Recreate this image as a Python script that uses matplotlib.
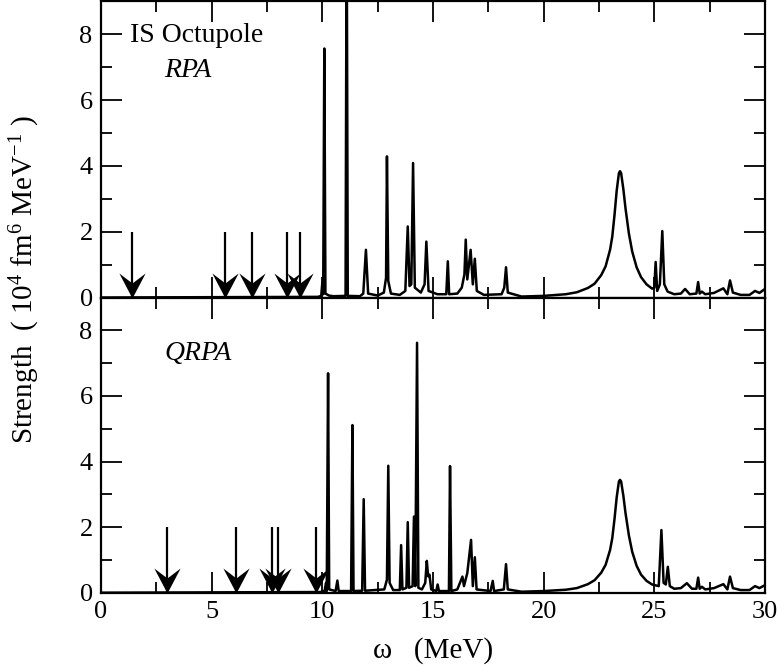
import matplotlib
matplotlib.use('Agg')
import matplotlib.pyplot as plt
from matplotlib.ticker import MultipleLocator
from matplotlib.path import Path

plt.rcParams['font.family'] = 'serif'
plt.rcParams['font.serif'] = ['Liberation Serif', 'DejaVu Serif']
plt.rcParams['mathtext.fontset'] = 'custom'
plt.rcParams['mathtext.rm'] = 'Liberation Serif'
plt.rcParams['mathtext.it'] = 'Liberation Serif:italic'

# RPA strength curve (MeV, 10^4 fm^6 MeV^-1)
rpa_x = [0.0, 9.8, 9.95, 10.0, 10.04, 10.09, 10.14, 10.3, 10.5,
         11.05, 11.1, 11.15, 11.7, 11.85, 11.97, 12.07, 12.5,
         12.78, 12.88, 12.92, 12.98, 13.1, 13.5, 13.75, 13.86, 13.94,
         14.02, 14.1, 14.18, 14.45, 14.62, 14.7, 14.8, 15.2, 15.6,
         15.67, 15.73, 16.1, 16.3, 16.42, 16.48, 16.55, 16.7, 16.8,
         16.89, 16.98, 17.3, 18.1, 18.22, 18.3, 18.38, 19.0, 20.0,
         21.0, 21.5, 22.0, 22.3, 22.6, 22.8, 23.0, 23.1, 23.2, 23.3,
         23.4, 23.45, 23.5, 23.6, 23.7, 23.85, 24.0, 24.2, 24.4, 24.65,
         24.9, 25.0, 25.06, 25.13, 25.25, 25.36, 25.45, 25.6, 25.9,
         26.2, 26.39, 26.6, 26.9, 26.98, 27.05, 27.15, 27.3, 27.7,
         28.12, 28.3, 28.42, 28.55, 28.9, 29.3, 29.55, 29.75, 30.0]
rpa_y = [0.0, 0.02, 0.05, 0.45, 0.1, 7.57, 0.12, 0.06, 0.04,
         0.05, 12.0, 0.05, 0.04, 0.12, 1.45, 0.12, 0.06,
         0.15, 0.6, 4.29, 0.5, 0.12, 0.08, 0.2, 2.16, 0.35,
         0.4, 4.09, 0.3, 0.15, 0.4, 1.70, 0.2, 0.1, 0.1,
         1.10, 0.1, 0.12, 0.3, 0.7, 1.76, 0.55, 1.45, 0.4,
         1.18, 0.2, 0.08, 0.1, 0.3, 0.92, 0.15, 0.03, 0.05,
         0.1, 0.16, 0.29, 0.42, 0.68, 0.95, 1.45, 1.85, 2.5, 3.25,
         3.78, 3.84, 3.78, 3.3, 2.7, 1.95, 1.4, 0.92, 0.62, 0.4,
         0.27, 0.3, 1.08, 0.2, 0.4, 2.02, 0.4, 0.18, 0.1,
         0.12, 0.26, 0.1, 0.12, 0.47, 0.12, 0.18, 0.1, 0.14,
         0.28, 0.1, 0.52, 0.15, 0.08, 0.08, 0.2, 0.14, 0.26]

# QRPA strength curve
qrpa_x = [0.0, 9.9, 10.1, 10.17, 10.2, 10.26, 10.31, 10.6, 10.68, 10.74,
          11.3, 11.36, 11.41, 11.8, 11.87, 11.93, 12.8, 12.92, 12.98,
          13.04, 13.2, 13.5, 13.56, 13.62, 13.8, 13.86, 13.92, 14.08,
          14.14, 14.2, 14.28, 14.34, 14.5, 14.65, 14.72, 14.78, 14.84,
          14.92, 15.15, 15.21, 15.27, 15.72, 15.77, 15.83, 16.1, 16.33,
          16.4, 16.55, 16.72, 16.8, 16.89, 16.97, 17.6, 17.7, 17.76,
          18.2, 18.3, 18.38, 19.0, 20.0, 21.0, 21.5, 22.0, 22.3, 22.6,
          22.8, 23.0, 23.1, 23.2, 23.3, 23.4, 23.45, 23.5, 23.6, 23.7,
          23.85, 24.0, 24.2, 24.4, 24.65, 24.9, 25.2, 25.32, 25.42,
          25.52, 25.61, 25.7, 25.9, 26.2, 26.47, 26.7, 26.9, 26.98,
          27.05, 27.15, 27.3, 27.7, 28.12, 28.3, 28.42, 28.55, 28.9,
          29.3, 29.55, 29.75, 30.0]
qrpa_y = [0.0, 0.02, 0.05, 0.3, 0.05, 6.69, 0.1, 0.05, 0.37, 0.05,
          0.05, 5.11, 0.05, 0.06, 2.85, 0.06, 0.1, 0.4, 3.87,
          0.3, 0.08, 0.08, 1.45, 0.1, 0.15, 2.15, 0.15, 0.2,
          2.32, 0.2, 7.62, 0.15, 0.1, 0.3, 0.97, 0.5, 0.55,
          0.1, 0.05, 0.25, 0.05, 0.05, 3.86, 0.05, 0.1, 0.49,
          0.2, 0.6, 1.61, 0.2, 1.08, 0.1, 0.05, 0.36, 0.05,
          0.1, 0.87, 0.1, 0.03, 0.05, 0.09, 0.14, 0.26, 0.38, 0.61,
          0.85, 1.3, 1.66, 2.24, 2.91, 3.39, 3.44, 3.39, 2.96, 2.42,
          1.75, 1.25, 0.82, 0.55, 0.36, 0.25, 0.2, 1.91, 0.3,
          0.25, 0.79, 0.2, 0.12, 0.14, 0.29, 0.12, 0.12, 0.46,
          0.12, 0.18, 0.1, 0.14, 0.26, 0.1, 0.49, 0.14, 0.08,
          0.08, 0.2, 0.14, 0.23]

# unperturbed energies marked by arrows
rpa_arrows = [1.39, 5.6, 6.81, 8.39, 8.99]
qrpa_arrows = [3.0, 6.09, 7.71, 8.01, 9.72]
arrow_top = 2.0

# concave arrowhead, tip at the origin
head = Path([(0, 0), (-10.5, 20), (0, 12), (10.5, 20), (0, 0)],
            [Path.MOVETO, Path.LINETO, Path.LINETO, Path.LINETO, Path.CLOSEPOLY])

fig = plt.figure(figsize=(7.81, 6.71), dpi=100)
ax1 = fig.add_axes([0.1293, 0.5566, 0.8502, 0.4412])
ax2 = fig.add_axes([0.1293, 0.1167, 0.8502, 0.4399])

panels = [(ax1, rpa_x, rpa_y, rpa_arrows), (ax2, qrpa_x, qrpa_y, qrpa_arrows)]
for ax, xs, ys, arrows in panels:
    ax.plot(xs, ys, color='black', lw=1.8)
    ax.vlines(arrows, 0, arrow_top, color='black', lw=1.6)
    ax.plot(arrows, [0] * len(arrows), ls='none', marker=head, ms=36,
            color='black', mew=0, clip_on=False)
    ax.set_xlim(0, 30)
    ax.set_ylim(0, 9)
    ax.xaxis.set_major_locator(MultipleLocator(5))
    ax.xaxis.set_minor_locator(MultipleLocator(2.5))
    ax.yaxis.set_major_locator(MultipleLocator(2))
    ax.yaxis.set_minor_locator(MultipleLocator(1))
    ax.tick_params(which='both', direction='in', top=True, right=True, width=1.3, labelsize=19, pad=6)
    ax.tick_params(which='major', length=15)
    ax.tick_params(which='minor', length=8)
    for s in ax.spines.values():
        s.set_linewidth(1.6)

ax1.tick_params(labelbottom=False)

ax1.text(1.31, 7.98, 'IS Octupole', fontsize=20, va='center', ha='left')
ax1.text(2.85, 6.91, 'RPA', fontsize=20, style='italic', va='center', ha='left')
ax2.text(2.89, 7.3, 'QRPA', fontsize=20, style='italic', va='center', ha='left')

ax2.set_xlabel('ω   (MeV)', fontsize=21, labelpad=10)
fig.text(0.032, 0.584, r'Strength  ( 10$^4$ fm$^6$ MeV$^{-1}$ )', fontsize=21,
         rotation=90, ha='center', va='center')

plt.savefig('out.png', dpi=100)
